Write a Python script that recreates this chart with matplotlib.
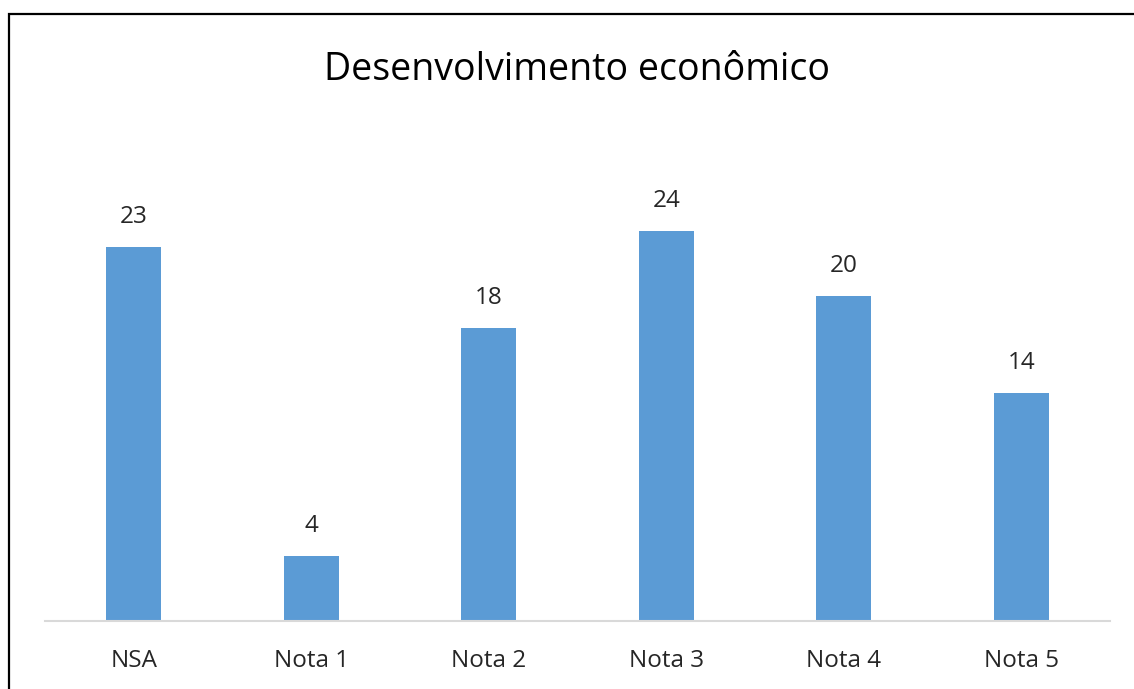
import matplotlib.pyplot as plt
from matplotlib.patches import Rectangle

categories = ['NSA', 'Nota 1', 'Nota 2', 'Nota 3', 'Nota 4', 'Nota 5']
values = [23, 4, 18, 24, 20, 14]
title = 'Desenvolvimento econômico'

plt.rcParams['font.family'] = ['Open Sans', 'DejaVu Sans']

fig = plt.figure(figsize=(11.34, 6.89), dpi=100)
ax = fig.add_axes([45 / 1134, 1 - 621 / 689, 1065 / 1134, (621 - 133) / 689])

x = range(len(categories))
bars = ax.bar(x, values, width=0.31, color='#5b9bd5', zorder=2)
ax.bar_label(bars, labels=[str(v) for v in values], padding=13,
             fontsize=17.5, color='#262626')

ax.set_xlim(-0.5, len(categories) - 0.5)
ax.set_ylim(0, 30)
ax.set_xticks(list(x))
ax.set_xticklabels(categories, fontsize=17.5, color='#262626')
ax.tick_params(axis='x', length=0, pad=20)
ax.set_yticks([])
for side in ('top', 'right', 'left'):
    ax.spines[side].set_visible(False)
ax.spines['bottom'].set_color('#d9d9d9')
ax.spines['bottom'].set_linewidth(1.5)

fig.text(577 / 1134, 1 - 70 / 689, title, ha='center', va='center',
         fontsize=27, color='#000000')

# outer frame of the chart area (cut off at right and bottom)
fig.patches.append(Rectangle((9 / 1134, -0.1), 1.2, 1 - 13.5 / 689 + 0.1,
                             transform=fig.transFigure, fill=False,
                             edgecolor='black', linewidth=1.6))

fig.savefig('out.png', dpi=100)
